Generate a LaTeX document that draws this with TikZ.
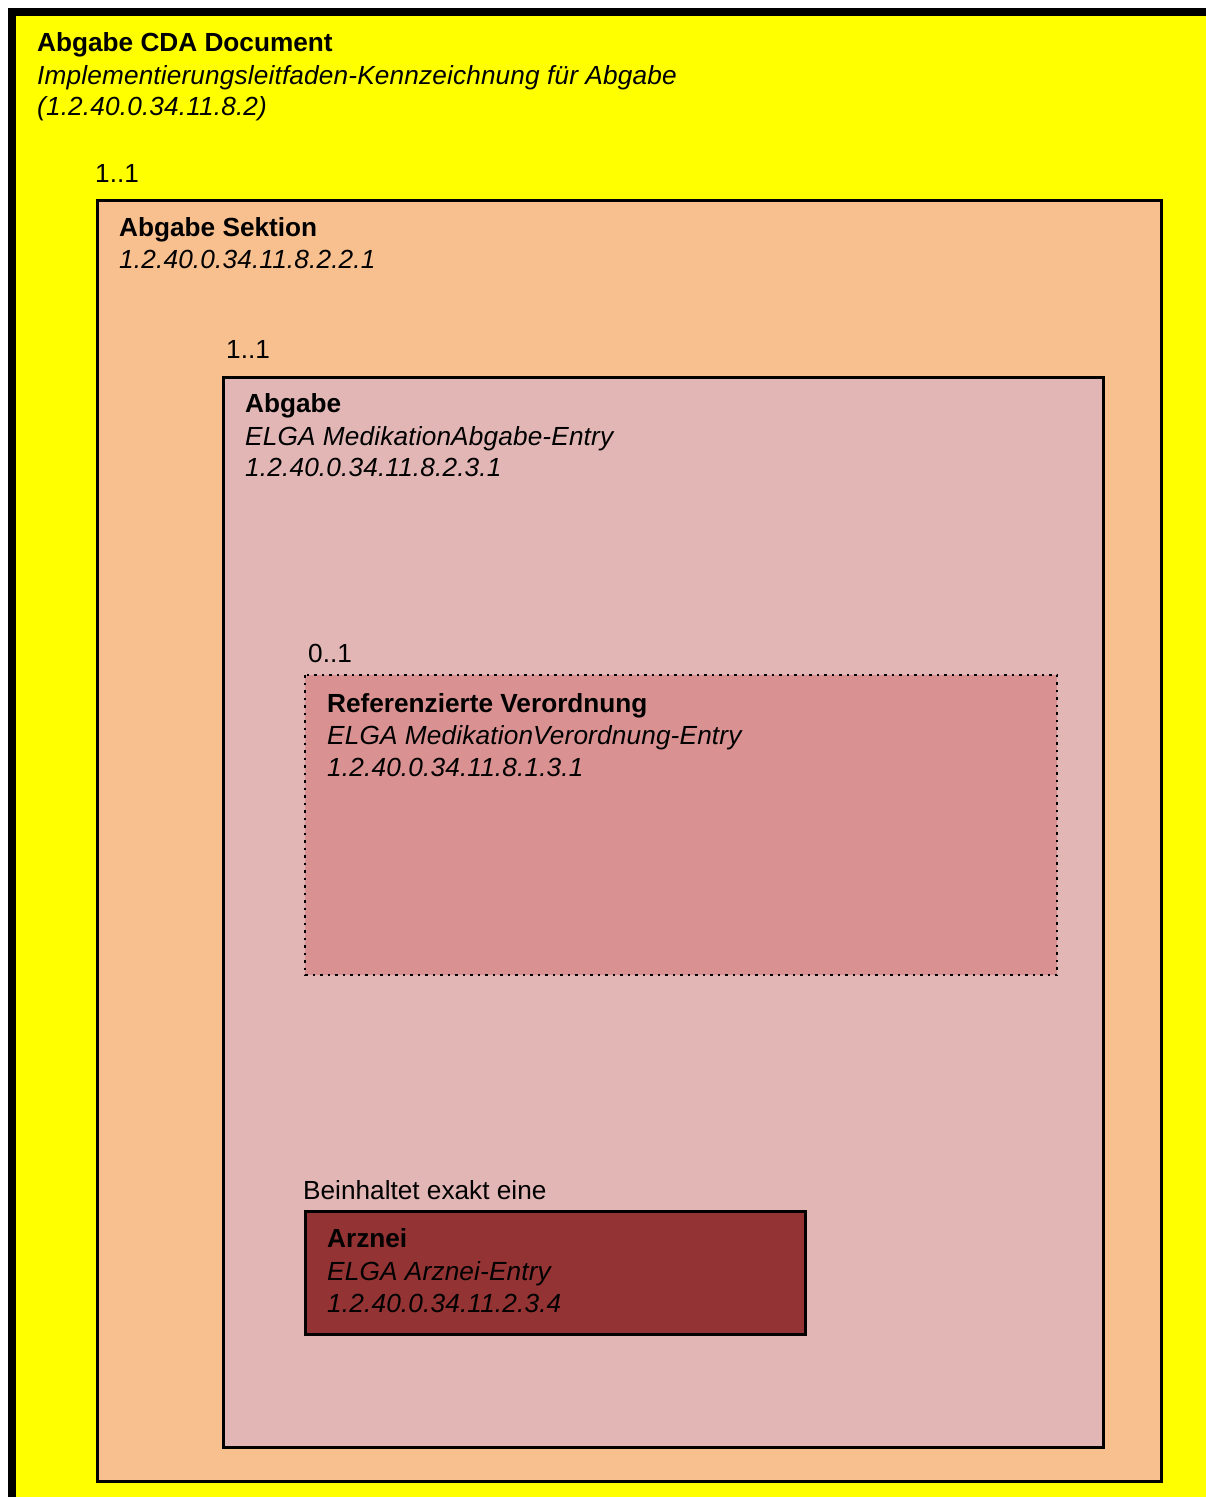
\documentclass[tikz,border=0pt]{standalone}
\usepackage{fontspec}
\setmainfont{Liberation Sans}
\definecolor{cyellow}{HTML}{FFFF00}
\definecolor{corange}{HTML}{F8BF8F}
\definecolor{cpink}{HTML}{E3B6B6}
\definecolor{crose}{HTML}{D99191}
\definecolor{cbrown}{HTML}{933333}
\tikzset{
  lbl/.style={anchor=base west, inner sep=0pt, font=\fontsize{26.2}{30}\selectfont},
  ttl/.style={lbl, font=\fontsize{26.2}{30}\selectfont\bfseries},
  sub/.style={lbl, font=\fontsize{26.2}{30}\selectfont\itshape\addfontfeature{LetterSpace=0.6}},
  boxline/.style={draw=black, line width=3pt},
}
\begin{document}
\begin{tikzpicture}[x=1pt,y=-1pt]
\useasboundingbox (0,0) rectangle (1206,1497);
\clip (0,0) rectangle (1206,1497);
\fill[white] (0,0) rectangle (1206,1497);
% outer document box
\draw[fill=cyellow, draw=black, line width=8pt] (12,12) rectangle (1230,1530);
\node[ttl] (t1) at (37,51) {Abgabe CDA Document};
\node[sub] (t1b) at (37,84) {Implementierungsleitfaden-Kennzeichnung für Abgabe};
\node[sub] (t1c) at (37,115) {(1.2.40.0.34.11.8.2)};
\node[lbl] (m1) at (95,182) {1..1};
% section box
\draw[boxline, fill=corange] (97.5,200) rectangle (1161.5,1481);
\node[ttl] (t2) at (119,236) {Abgabe Sektion};
\node[sub] (t2b) at (119,268) {1.2.40.0.34.11.8.2.2.1};
\node[lbl] (m2) at (226,358) {1..1};
% entry box
\draw[boxline, fill=cpink] (223,377) rectangle (1103.5,1447);
\node[ttl] (t3) at (245,412) {Abgabe};
\node[sub] (t3b) at (245,445) {ELGA MedikationAbgabe-Entry};
\node[sub] (t3c) at (245,476) {1.2.40.0.34.11.8.2.3.1};
\node[lbl] (m3) at (308,662) {0..1};
% referenced order box (dotted)
\fill[crose] (305,675) rectangle (1057,975);
\draw[line width=2.5pt, dash pattern=on 2.5pt off 5pt] (305,675) rectangle (1057,975);
\node[ttl] (t4) at (327,712) {Referenzierte Verordnung};
\node[sub] (t4b) at (327,744) {ELGA MedikationVerordnung-Entry};
\node[sub] (t4c) at (327,776) {1.2.40.0.34.11.8.1.3.1};
% arznei box
\node[lbl] (m4) at (303,1199) {Beinhaltet exakt eine};
\draw[boxline, fill=cbrown] (305,1211.5) rectangle (805,1334.5);
\node[ttl] (t5) at (327,1247) {Arznei};
\node[sub] (t5b) at (327,1280) {ELGA Arznei-Entry};
\node[sub] (t5c) at (327,1312) {1.2.40.0.34.11.2.3.4};
\end{tikzpicture}
\end{document}
